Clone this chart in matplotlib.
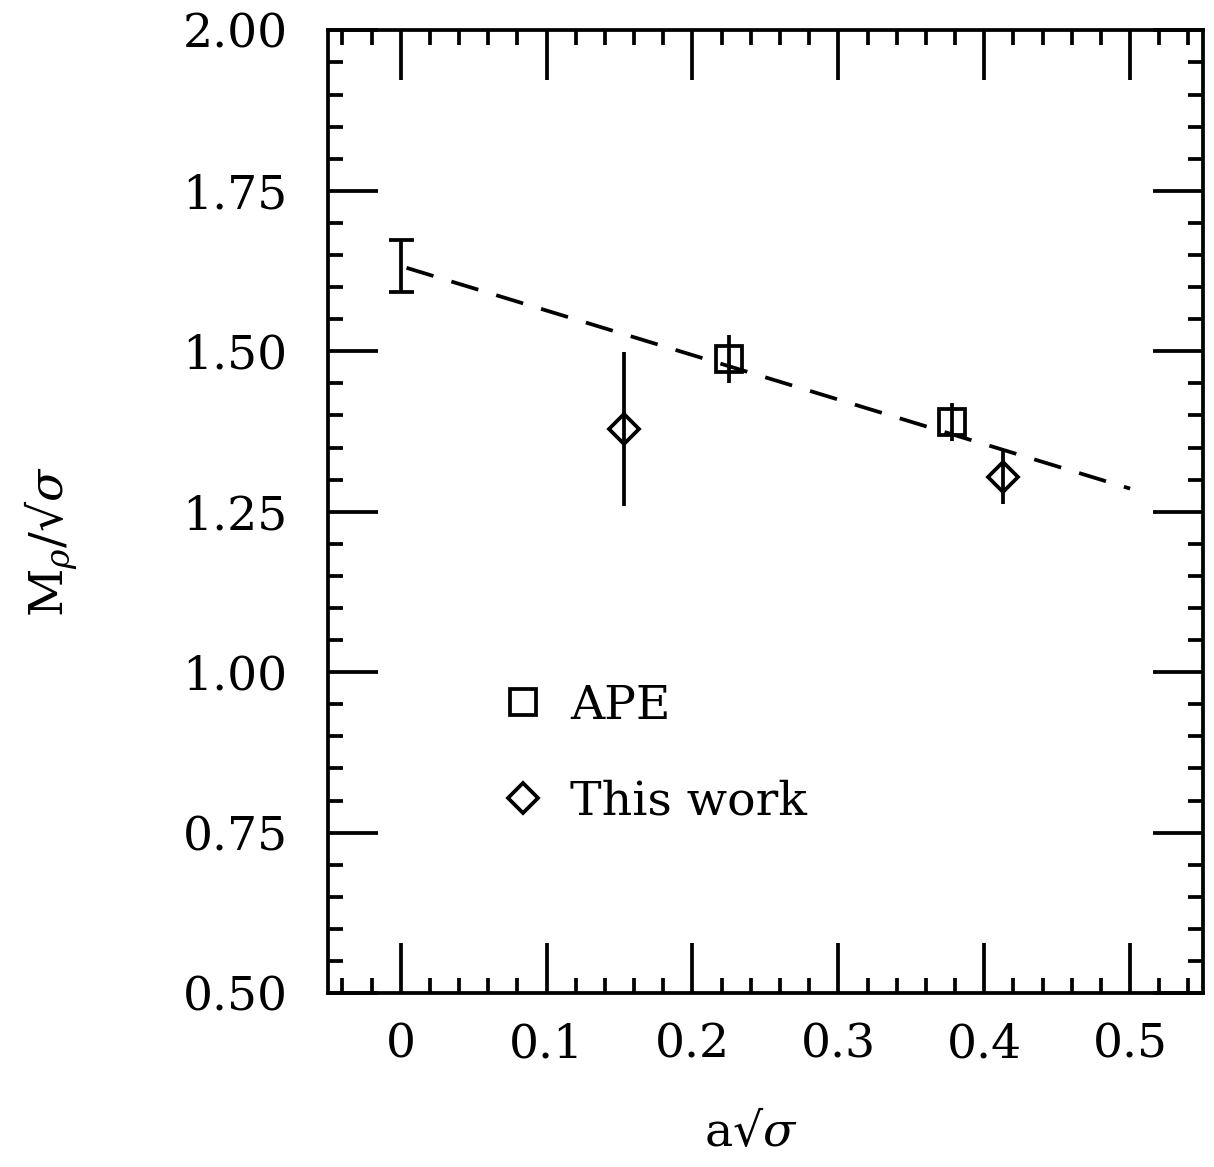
import matplotlib
matplotlib.use("agg")
import matplotlib.pyplot as plt
from matplotlib.ticker import MultipleLocator

plt.rcParams['font.family'] = ['DejaVu Serif']
plt.rcParams['mathtext.fontset'] = 'dejavuserif'

# extrapolated continuum value
x_cont = [0.0]
y_cont = [1.633]
err_cont = [0.041]

# APE data
x_ape = [0.225, 0.378]
y_ape = [1.488, 1.390]
err_ape = [0.038, 0.030]

# this work
x_this = [0.153, 0.413]
y_this = [1.379, 1.304]
err_this = [0.120, 0.042]

# linear fit (dashed)
x_fit = [0.004, 0.5]
y_fit = [1.630, 1.286]

xticks = [0, 0.1, 0.2, 0.3, 0.4, 0.5]
xticklabels = ['0', '0.1', '0.2', '0.3', '0.4', '0.5']
yticks = [0.5, 0.75, 1.0, 1.25, 1.5, 1.75, 2.0]
yticklabels = ['0.50', '0.75', '1.00', '1.25', '1.50', '1.75', '2.00']

fig = plt.figure(figsize=(12.14, 11.67), dpi=100)
ax = fig.add_axes([0.270, 0.149, 0.721, 0.825])

lw = 2.7
ax.plot(x_fit, y_fit, color='black', lw=lw, linestyle=(0, (7.5, 5)))

ax.errorbar(x_cont, y_cont, yerr=err_cont, fmt='none', ecolor='black',
            elinewidth=lw, capsize=9, capthick=lw)
ax.errorbar(x_ape, y_ape, yerr=err_ape, fmt='none', ecolor='black', elinewidth=lw)
ax.errorbar(x_this, y_this, yerr=err_this, fmt='none', ecolor='black', elinewidth=lw)

ax.plot(x_ape, y_ape, 's', ms=19, mfc='none', mec='black', mew=lw, label='APE')
ax.plot(x_this, y_this, 'D', ms=15, mfc='none', mec='black', mew=lw, label='This work')

ax.set_xlim(-0.05, 0.55)
ax.set_ylim(0.5, 2.0)
ax.set_xticks(xticks)
ax.set_xticklabels(xticklabels)
ax.set_yticks(yticks)
ax.set_yticklabels(yticklabels)
ax.xaxis.set_minor_locator(MultipleLocator(0.02))
ax.yaxis.set_minor_locator(MultipleLocator(0.05))

ax.tick_params(which='both', direction='in', top=True, right=True, width=lw,
               labelsize=34)
ax.tick_params(which='major', length=36)
ax.tick_params(which='minor', length=11)
ax.tick_params(axis='x', which='major', pad=21)
ax.tick_params(axis='y', which='major', pad=29)
for s in ax.spines.values():
    s.set_linewidth(lw)

ax.set_xlabel('a√$\\sigma$', fontsize=34)
ax.xaxis.set_label_coords(0.483, -0.122)
ax.set_ylabel('M$_{\\rho}$/√$\\sigma$', fontsize=34)
ax.yaxis.set_label_coords(-0.283, 0.469)

leg = ax.legend(loc='upper left', bbox_to_anchor=(0.153, 0.366), frameon=False,
                fontsize=34, handlelength=0.8, handletextpad=0.6,
                labelspacing=1.07, numpoints=1, markerscale=1.0)

fig.savefig("out.png", dpi=100)
